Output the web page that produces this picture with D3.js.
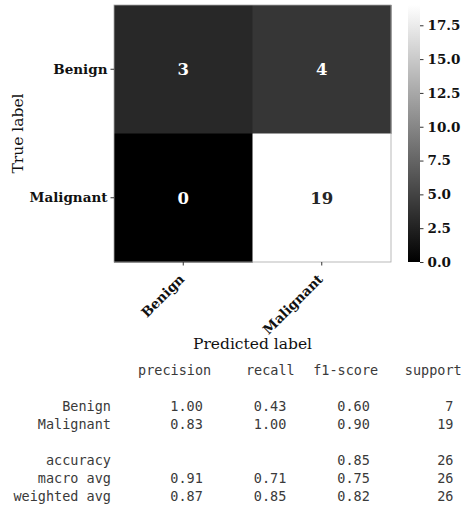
<!DOCTYPE html>
<html>
<head>
<meta charset="utf-8">
<script src="https://cdn.jsdelivr.net/npm/d3@7"></script>
<style>
  html, body { margin: 0; padding: 0; background: #fff; }
  svg { display: block; }
</style>
</head>
<body>
<svg id="chart" width="462" height="513"></svg>
<script>
// ---- data ----
const predictedLabels = ["Benign", "Malignant"];
const trueLabels = ["Benign", "Malignant"];
const matrix = [
  [3, 4],
  [0, 19]
];
const colorbarTicks = [0, 2.5, 5, 7.5, 10, 12.5, 15, 17.5];

const reportHeaders = ["precision", "recall", "f1-score", "support"];
const reportLabels = ["Benign", "Malignant", "accuracy", "macro avg", "weighted avg"];
const reportLines = [2, 3, 5, 6, 7];
const precision = [1.00, 0.83, null, 0.91, 0.87];
const recall = [0.43, 1.00, null, 0.71, 0.85];
const f1score = [0.60, 0.90, 0.85, 0.75, 0.82];
const support = [7, 19, 26, 26, 26];

// ---- drawing ----
const svg = d3.select("#chart");
const hm = { left: 114, right: 391, top: 5, bottom: 262 };
const cb = { left: 408, right: 420 };

const x = d3.scaleBand().domain(predictedLabels).range([hm.left, hm.right]);
const y = d3.scaleBand().domain(trueLabels).range([hm.top, hm.bottom]);
const vmax = d3.max(matrix.flat());
const color = d3.scaleLinear().domain([0, vmax]).range(["#000000", "#ffffff"]);

const cells = [];
matrix.forEach((row, i) => row.forEach((v, j) => cells.push({ t: trueLabels[i], p: predictedLabels[j], v })));

svg.append("g").selectAll("rect").data(cells).join("rect")
  .attr("x", d => x(d.p)).attr("y", d => y(d.t))
  .attr("width", x.bandwidth() + 0.5).attr("height", y.bandwidth() + 0.5)
  .attr("fill", d => color(d.v));

svg.append("rect")
  .attr("x", hm.left).attr("y", hm.top)
  .attr("width", hm.right - hm.left).attr("height", hm.bottom - hm.top)
  .attr("fill", "none").attr("stroke", "#a8a8a8").attr("stroke-width", 0.8);

svg.append("g").selectAll("text").data(cells).join("text")
  .attr("x", d => x(d.p) + x.bandwidth() / 2)
  .attr("y", d => y(d.t) + y.bandwidth() / 2)
  .attr("text-anchor", "middle").attr("dy", "0.36em")
  .attr("font-family", "DejaVu Serif").attr("font-weight", "bold").attr("font-size", 16.5)
  .attr("fill", d => d.v / vmax > 0.5 ? "#262626" : "#ffffff")
  .text(d => d.v);

// y axis
const yAxis = svg.append("g").attr("transform", `translate(${hm.left},0)`)
  .call(d3.axisLeft(y).tickSize(3.5).tickPadding(3));
yAxis.select(".domain").remove();
yAxis.selectAll("line").attr("stroke", "#333");
yAxis.selectAll("text")
  .attr("font-family", "DejaVu Serif").attr("font-weight", "bold").attr("font-size", 13.5)
  .attr("fill", "#111");

// x axis
const xAxis = svg.append("g").attr("transform", `translate(0,${hm.bottom})`)
  .call(d3.axisBottom(x).tickSize(3.5).tickPadding(3));
xAxis.select(".domain").remove();
xAxis.selectAll("line").attr("stroke", "#333");
xAxis.selectAll("text")
  .attr("font-family", "DejaVu Serif").attr("font-weight", "bold").attr("font-size", 13.5)
  .attr("fill", "#111")
  .attr("text-anchor", "end")
  .attr("y", 0).attr("dy", 0)
  .attr("transform", "translate(2,18) rotate(-45)");

// axis labels
svg.append("text")
  .attr("x", (hm.left + hm.right) / 2).attr("y", 349)
  .attr("text-anchor", "middle")
  .attr("font-family", "DejaVu Serif").attr("font-size", 15.5).attr("fill", "#111")
  .text("Predicted label");
svg.append("text")
  .attr("transform", `translate(23,${(hm.top + hm.bottom) / 2}) rotate(-90)`)
  .attr("text-anchor", "middle")
  .attr("font-family", "DejaVu Serif").attr("font-size", 15.5).attr("fill", "#111")
  .text("True label");

// colorbar
const cy = d3.scaleLinear().domain([0, vmax]).range([hm.bottom, hm.top]);
const defs = svg.append("defs");
const grad = defs.append("linearGradient").attr("id", "cbgrad")
  .attr("x1", 0).attr("y1", 1).attr("x2", 0).attr("y2", 0);
grad.append("stop").attr("offset", "0%").attr("stop-color", color(0));
grad.append("stop").attr("offset", "100%").attr("stop-color", color(vmax));
svg.append("rect")
  .attr("x", cb.left).attr("y", cy(vmax))
  .attr("width", cb.right - cb.left).attr("height", cy(0) - cy(vmax))
  .attr("fill", "url(#cbgrad)");
const cAxis = svg.append("g").attr("transform", `translate(${cb.right},0)`)
  .call(d3.axisRight(cy).tickValues(colorbarTicks).tickFormat(d3.format(".1f")).tickSize(3.5).tickPadding(4));
cAxis.select(".domain").remove();
cAxis.selectAll("line").attr("stroke", "#333");
cAxis.selectAll("text")
  .attr("font-family", "DejaVu Serif").attr("font-weight", "bold").attr("font-size", 13.5)
  .attr("fill", "#111");

// classification report (monospace layout)
const colX = d3.scaleLinear().domain([0, 53]).range([10.8, 453.4]);
const lineY = d3.scaleLinear().domain([0, 7]).range([375, 500.5]);
const mono = { family: "DejaVu Sans Mono", size: 13.5, fill: "#3a3a3a" };
const rep = svg.append("g")
  .attr("font-family", mono.family).attr("font-size", mono.size).attr("fill", mono.fill)
  .attr("text-anchor", "end");

rep.selectAll("text.h").data(reportHeaders).join("text").attr("class", "h")
  .attr("x", (d, i) => colX(24 + 10 * i)).attr("y", lineY(0))
  .text(d => d);

const fmt = d3.format(".2f");
reportLabels.forEach((lab, r) => {
  const yy = lineY(reportLines[r]);
  rep.append("text").attr("x", colX(12)).attr("y", yy).text(lab);
  [precision[r], recall[r], f1score[r]].forEach((v, c) => {
    if (v !== null) rep.append("text").attr("x", colX(23 + 10 * c)).attr("y", yy).text(fmt(v));
  });
  rep.append("text").attr("x", colX(53)).attr("y", yy).text(support[r]);
});
</script>
</body>
</html>
